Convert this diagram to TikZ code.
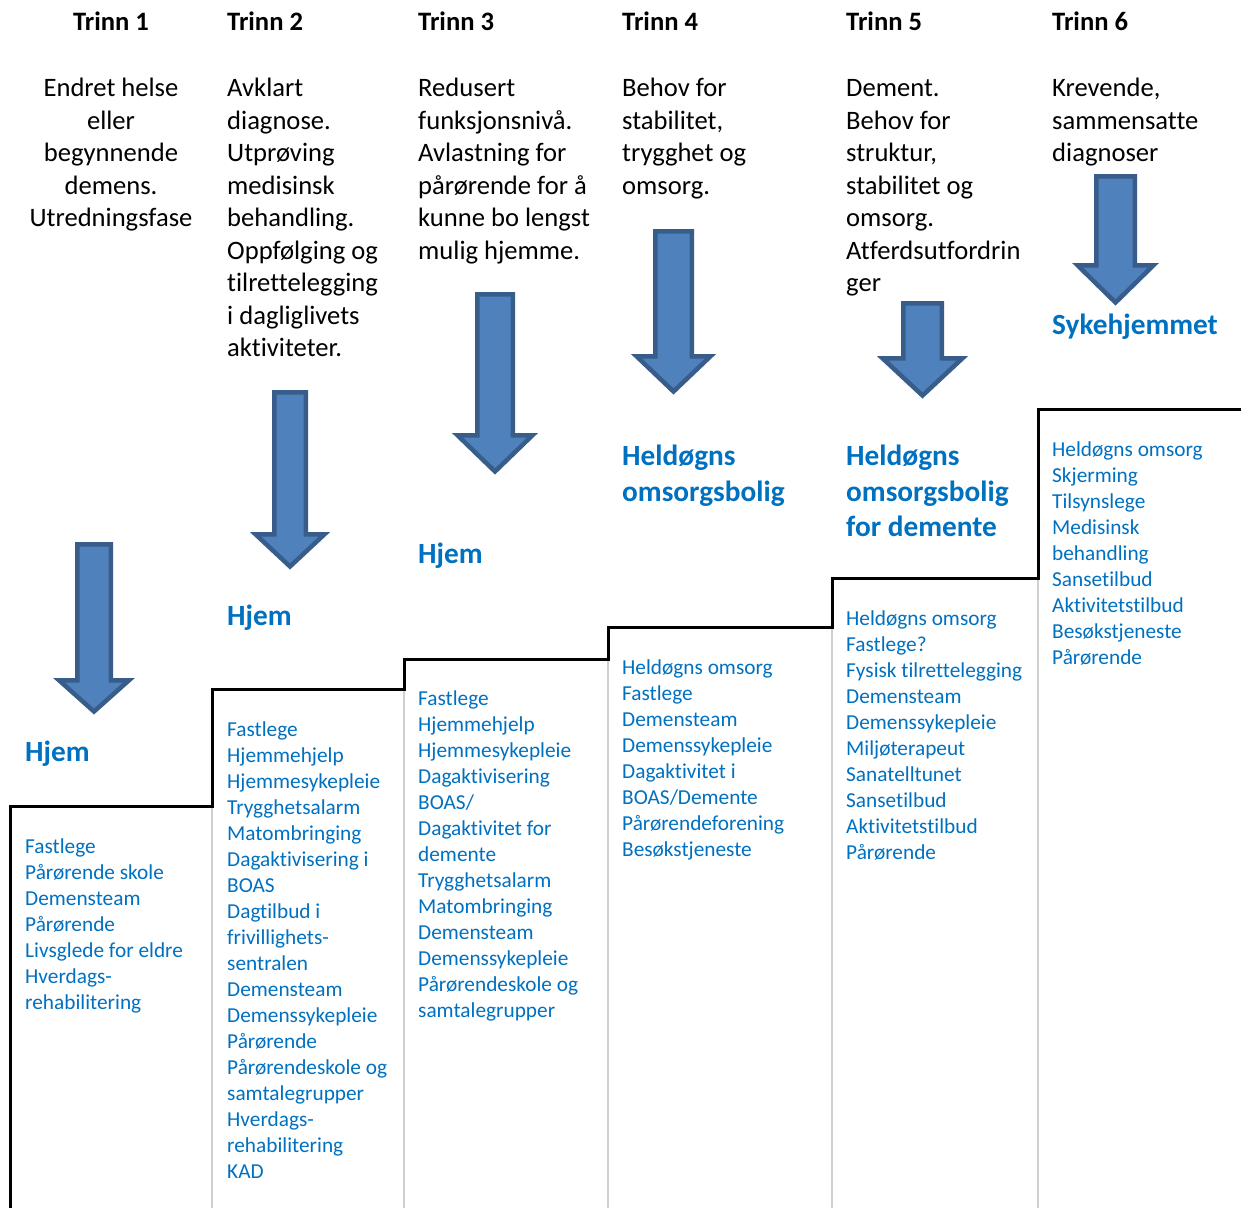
\documentclass[tikz,border=0pt]{standalone}
\usepackage{fontspec}
\setmainfont{Carlito}[Ligatures=CommonOff]
\definecolor{txtblue}{HTML}{0070C0}
\definecolor{arrfill}{HTML}{4F81BD}
\definecolor{arrline}{HTML}{385D8A}
\definecolor{gridgray}{HTML}{D0D0D0}
\newcommand\blockarr[6]{% cx top heady tip shafthalf headhalf
  \draw[arrowshape] ({#1-#5+2.25},{#2+2.25}) -- ({#1+#5-2.25},{#2+2.25}) -- ({#1+#5-2.25},{#3+2.25})
    -- ({#1+#6-4.5},{#3+2.25}) -- (#1,{#4-3.5}) -- ({#1-#6+4.5},{#3+2.25}) -- ({#1-#5+2.25},{#3+2.25}) -- cycle;}
\tikzset{
  hdr/.style={font=\fontsize{26.6bp}{32.5bp}\selectfont\bfseries, inner sep=0pt, anchor=base west},
  desc/.style={font=\fontsize{26.6bp}{32.5bp}\selectfont, inner sep=0pt, anchor=base west, align=left},
  lbl/.style={font=\fontsize{29.3bp}{35.7bp}\selectfont\bfseries, text=txtblue, inner sep=0pt, anchor=base west, align=left},
  lst/.style={font=\fontsize{21.3bp}{26bp}\selectfont, text=txtblue, inner sep=0pt, anchor=base west, align=left},
  arrowshape/.style={fill=arrfill, draw=arrline, line width=4.5bp, line join=miter},
  stair/.style={draw=black, line width=3bp, line join=miter},
  gridline/.style={draw=gridgray, line width=2bp}
}
\begin{document}
\begin{tikzpicture}[x=1bp,y=-1bp]
\useasboundingbox (0,0) rectangle (1241,1208);
% grid lines
\draw[gridline] (212,806) -- (212,1208);
\draw[gridline] (404,689) -- (404,1208);
\draw[gridline] (608,659) -- (608,1208);
\draw[gridline] (832,627) -- (832,1208);
\draw[gridline] (1038,578) -- (1038,1208);
% staircase
\draw[stair] (10,1208) -- (10,806) -- (212,806) -- (212,689) -- (404,689) -- (404,659) -- (608,659)
  -- (608,627) -- (832,627) -- (832,578) -- (1038,578) -- (1038,409) -- (1241,409);
% arrows
\blockarr{94}{542}{678}{715}{19}{39.5}
\blockarr{290}{390}{532}{570}{18}{39}
\blockarr{495}{292}{433}{475}{20}{42}
\blockarr{673.5}{229}{354}{395}{20.5}{41.5}
\blockarr{922.5}{301}{356}{399}{21.5}{44.5}
\blockarr{1115.5}{174}{263}{306}{21.5}{42.5}
% headers
\node[hdr, anchor=base] (h1) at (111,30) {Trinn 1};
\node[hdr] (h2) at (227,30) {Trinn 2};
\node[hdr] (h3) at (418,30) {Trinn 3};
\node[hdr] (h4) at (622,30) {Trinn 4};
\node[hdr] (h5) at (846,30) {Trinn 5};
\node[hdr] (h6) at (1052,30) {Trinn 6};
% descriptions (base anchor = last line)
\node[desc, align=center, anchor=base] (d1) at (111,{96.7+4*32.5}) {Endret helse\\eller\\begynnende\\demens.\\Utredningsfase};
\node[desc] (d2) at (227,{96.7+8*32.5}) {Avklart\\diagnose.\\Utprøving\\medisinsk\\behandling.\\Oppfølging og\\tilrettelegging\\i dagliglivets\\aktiviteter.};
\node[desc] (d3) at (418,{96.7+5*32.5}) {Redusert\\funksjonsnivå.\\Avlastning for\\pårørende for å\\kunne bo lengst\\mulig hjemme.};
\node[desc] (d4) at (622,{96.7+3*32.5}) {Behov for\\stabilitet,\\trygghet og\\omsorg.};
\node[desc] (d5) at (846,{96.7+6*32.5}) {Dement.\\Behov for\\struktur,\\stabilitet og\\omsorg.\\Atferdsutfordrin\\ger};
\node[desc] (d6) at (1052,{96.7+2*32.5}) {Krevende,\\sammensatte\\diagnoser};
% blue labels
\node[lbl] (l1) at (25,761.7) {Hjem};
\node[lbl] (l2) at (227,625) {Hjem};
\node[lbl] (l3) at (418,563) {Hjem};
\node[lbl] (l4) at (622,{465.5+35.7}) {Heldøgns\\omsorgsbolig};
\node[lbl] (l5) at (846,{465.5+2*35.7}) {Heldøgns\\omsorgsbolig\\for demente};
\node[lbl] (l6) at (1052,334.3) {Sykehjemmet};
% lists
\node[lst] (s1) at (25,{853.5+6*26}) {Fastlege\\Pårørende skole\\Demensteam\\Pårørende\\Livsglede for eldre\\Hverdags-\\rehabilitering};
\node[lst] (s2) at (227,{736.7+17*26}) {Fastlege\\Hjemmehjelp\\Hjemmesykepleie\\Trygghetsalarm\\Matombringing\\Dagaktivisering i\\BOAS\\Dagtilbud i\\frivillighets-\\sentralen\\Demensteam\\Demenssykepleie\\Pårørende\\Pårørendeskole og\\samtalegrupper\\Hverdags-\\rehabilitering\\KAD};
\node[lst] (s3) at (418,{705+12*26}) {Fastlege\\Hjemmehjelp\\Hjemmesykepleie\\Dagaktivisering\\BOAS/\\Dagaktivitet for\\demente\\Trygghetsalarm\\Matombringing\\Demensteam\\Demenssykepleie\\Pårørendeskole og\\samtalegrupper};
\node[lst] (s4) at (622,{674.5+7*26}) {Heldøgns omsorg\\Fastlege\\Demensteam\\Demenssykepleie\\Dagaktivitet i\\BOAS/Demente\\Pårørendeforening\\Besøkstjeneste};
\node[lst] (s5) at (846,{625.5+9*26}) {Heldøgns omsorg\\Fastlege?\\Fysisk tilrettelegging\\Demensteam\\Demenssykepleie\\Miljøterapeut\\Sanatelltunet\\Sansetilbud\\Aktivitetstilbud\\Pårørende};
\node[lst] (s6) at (1052,{456.5+8*26}) {Heldøgns omsorg\\Skjerming\\Tilsynslege\\Medisinsk\\behandling\\Sansetilbud\\Aktivitetstilbud\\Besøkstjeneste\\Pårørende};
\end{tikzpicture}
\end{document}
